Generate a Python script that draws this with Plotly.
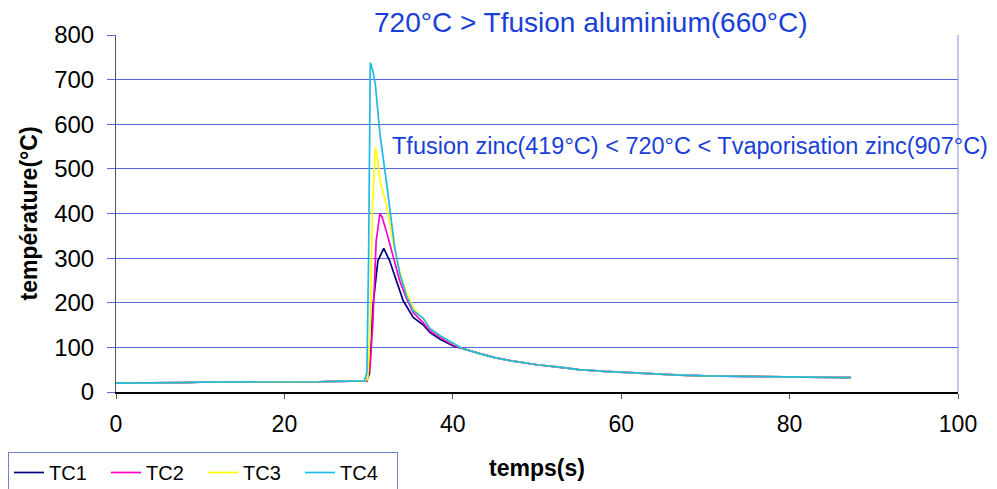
import plotly.graph_objects as go

# ---- data ----
base_t = [0, 2, 4, 6, 8, 10, 12, 14, 16, 18, 20, 22, 24, 26, 28, 29.5]
base_y = [20, 20, 20, 21, 21, 22, 22, 23, 22, 23, 22, 23, 23, 24, 24, 25]

tail_t = [41.2, 43.2, 45, 47.2, 50, 53, 55, 58, 61, 64, 67, 70, 75, 80, 85, 87.3]
tail_y = [97, 86, 77, 69, 61, 55, 50, 46, 43, 40, 38, 36, 35, 34, 33, 32]

tc1_t = [29.8, 30.1, 30.5, 31.1, 31.8, 32.5, 33.3, 34.1, 35.3, 36.5, 37.3, 38.5, 40]
tc1_y = [25, 41, 190, 294, 322, 294, 249, 205, 167, 150, 133, 118, 104]

tc2_t = [29.8, 30.2, 30.5, 30.9, 31.35, 31.6, 32.1, 32.9, 33.7, 34.5, 35.3, 36.5, 37.3, 38.5, 40]
tc2_y = [26, 60, 153, 339, 400, 392, 361, 302, 249, 210, 178, 155, 137, 122, 106]

tc3_t = [29.9, 30.2, 30.45, 30.8, 31.0, 31.35, 32.1, 32.9, 33.7, 34.5, 35.3, 36.5, 37.3, 38.5, 40]
tc3_y = [28, 145, 413, 548, 530, 473, 421, 339, 270, 222, 188, 163, 142, 126, 109]

tc4_t = [29.8, 30.0, 30.2, 30.5, 30.8, 31.35, 32.1, 32.5, 33.1, 33.7, 34.5, 35.3, 36.5, 37.3, 38.5, 40]
tc4_y = [45, 300, 738, 720, 689, 578, 473, 413, 324, 265, 215, 182, 165, 142, 126, 110]

series_names = ["TC1", "TC2", "TC3", "TC4"]
series_colors = ["#000080", "#ff00cc", "#ffff00", "#20b8e8"]

x_ticks = [0, 20, 40, 60, 80, 100]
y_ticks = [0, 100, 200, 300, 400, 500, 600, 700, 800]

annot1 = "720°C > Tfusion aluminium(660°C)"
annot2 = "Tfusion zinc(419°C) < 720°C < Tvaporisation zinc(907°C)"

FONT = "Liberation Sans, Arial, sans-serif"

W, H = 997, 489
L, T = 116, 35
R = W - 958
B = H - 392
PW, PH = 958 - 116, 392 - 35

fig = go.Figure()
series = [(tc1_t, tc1_y), (tc2_t, tc2_y), (tc3_t, tc3_y), (tc4_t, tc4_y)]
for name, color, (t, y) in zip(series_names, series_colors, series):
    fig.add_trace(go.Scatter(
        x=base_t + t + tail_t,
        y=base_y + y + tail_y,
        mode="lines", name=name,
        line=dict(color=color, width=1.7),
    ))

fig.update_layout(
    width=W, height=H,
    margin=dict(l=L, r=R, t=T, b=B, autoexpand=False),
    paper_bgcolor="white", plot_bgcolor="white",
    font=dict(family=FONT, color="black"),
    showlegend=True,
    legend=dict(
        orientation="h", x=(8 - 116) / PW, y=(392 - 452) / PH, xanchor="left", yanchor="top",
        bordercolor="#7080d0", borderwidth=1,
        font=dict(size=20, family=FONT, color="black"),
        itemwidth=30, tracegroupgap=0,
        entrywidth=52, entrywidthmode="pixels",
    ),
    xaxis=dict(
        range=[0, 100], tickvals=x_ticks, showgrid=False,
        showline=True, linecolor="black", linewidth=1.5,
        ticks="outside", ticklen=5, tickcolor="#555",
        tickfont=dict(size=23), zeroline=False, ticklabelstandoff=6,
        title=dict(text="<b>temps(s)</b>", font=dict(size=23), standoff=24),
    ),
    yaxis=dict(
        range=[0, 800], tickvals=y_ticks,
        showgrid=True, gridcolor="#5468e0", gridwidth=1,
        showline=True, linecolor="#555", linewidth=1,
        ticks="outside", ticklen=8, tickcolor="#5468e0",
        tickfont=dict(size=24), zeroline=False, ticklabelstandoff=8,
        title=dict(text="<b>température(°C)</b>", font=dict(size=23), standoff=10),
    ),
)

# right border of plot area
fig.add_shape(type="line", xref="paper", yref="paper", x0=1, x1=1, y0=0, y1=1,
              line=dict(color="#8090d8", width=1))

fig.add_annotation(text=annot1, xref="paper", yref="paper",
                   x=(372 - 116) / PW, y=(392 - 23) / PH, xanchor="left", yanchor="middle",
                   showarrow=False, font=dict(size=28, color="#1a3fd8", family=FONT))
fig.add_annotation(text=annot2, xref="paper", yref="paper",
                   x=(390 - 116) / PW, y=(392 - 146) / PH, xanchor="left", yanchor="middle",
                   showarrow=False, font=dict(size=23.5, color="#1a3fd8", family=FONT))

fig.write_html("out.html", config={"displayModeBar": False},
               post_script="document.body.style.margin='0';")
